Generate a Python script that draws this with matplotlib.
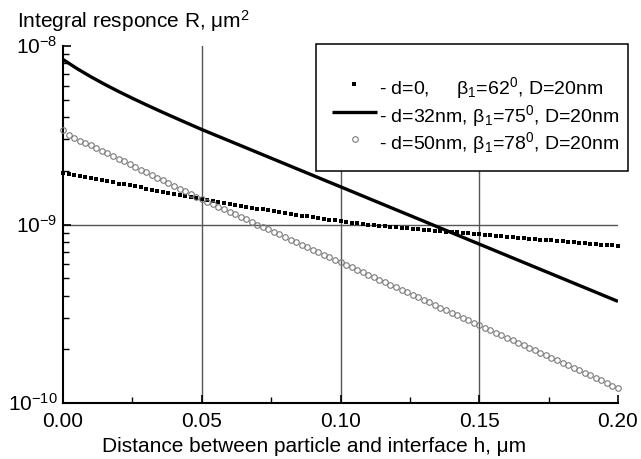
import numpy as np
import matplotlib
matplotlib.use("Agg")
import matplotlib.pyplot as plt
from matplotlib.lines import Line2D
from matplotlib.patches import Rectangle
from matplotlib.ticker import FixedLocator, LogLocator, NullFormatter

plt.rcParams['font.family'] = ['Liberation Sans', 'DejaVu Sans']
plt.rcParams['mathtext.fontset'] = 'custom'
plt.rcParams['mathtext.rm'] = 'Liberation Sans'
plt.rcParams['mathtext.it'] = 'Liberation Sans:italic'
plt.rcParams['mathtext.bf'] = 'Liberation Sans:bold'

# ---------------- data (R in units of 1e-9 um^2) ----------------
h_fine = np.linspace(0.0, 0.20, 101)     # sampling of the marker series
h_solid = np.linspace(0.0, 0.20, 41)     # sampling of the solid curve

R_d0 = [1.931, 1.907, 1.883, 1.859, 1.835,
        1.811, 1.788, 1.765, 1.743, 1.720,
        1.697, 1.676, 1.655, 1.633, 1.612,
        1.591, 1.570, 1.549, 1.529, 1.508,
        1.487, 1.468, 1.449, 1.431, 1.412,
        1.393, 1.376, 1.358, 1.341, 1.323,
        1.306, 1.290, 1.275, 1.259, 1.244,
        1.228, 1.214, 1.201, 1.187, 1.174,
        1.160, 1.147, 1.135, 1.122, 1.110,
        1.097, 1.086, 1.075, 1.064, 1.053,
        1.042, 1.034, 1.025, 1.017, 1.008,
        1.000, 0.993, 0.986, 0.980, 0.973,
        0.966, 0.960, 0.954, 0.947, 0.941,
        0.935, 0.930, 0.924, 0.919, 0.913,
        0.908, 0.903, 0.898, 0.892, 0.887,
        0.882, 0.877, 0.871, 0.866, 0.860,
        0.855, 0.850, 0.845, 0.839, 0.834,
        0.829, 0.824, 0.819, 0.815, 0.810,
        0.805, 0.800, 0.796, 0.791, 0.787,
        0.782, 0.777, 0.772, 0.768, 0.763,
        0.758]

R_d32 = [8.403, 7.480, 6.730, 6.102, 5.564, 5.097, 4.684, 4.315, 3.984, 3.683,
         3.406, 3.163, 2.938, 2.729, 2.534, 2.354, 2.186, 2.030, 1.886, 1.751,
         1.627, 1.511, 1.403, 1.303, 1.210, 1.124, 1.044, 0.9694, 0.9004, 0.8362,
         0.7766, 0.7213, 0.6699, 0.6222, 0.5779, 0.5367, 0.4985, 0.4629, 0.4300,
         0.3993, 0.3709]

R_d50 = [3.398, 3.172, 3.052, 2.955, 2.865,
         2.782, 2.687, 2.594, 2.505, 2.419,
         2.337, 2.257, 2.179, 2.105, 2.032,
         1.963, 1.895, 1.830, 1.767, 1.706,
         1.647, 1.591, 1.536, 1.484, 1.433,
         1.384, 1.339, 1.296, 1.255, 1.214,
         1.175, 1.138, 1.102, 1.067, 1.033,
         1.000, 0.968, 0.938, 0.908, 0.879,
         0.851, 0.824, 0.798, 0.772, 0.748,
         0.724, 0.701, 0.679, 0.657, 0.636,
         0.616, 0.596, 0.577, 0.558, 0.540,
         0.523, 0.506, 0.490, 0.474, 0.459,
         0.444, 0.430, 0.416, 0.403, 0.390,
         0.378, 0.366, 0.354, 0.342, 0.331,
         0.3205, 0.3102, 0.3002, 0.2905, 0.2812,
         0.2721, 0.2635, 0.2551, 0.2470, 0.2392,
         0.2316, 0.2243, 0.2171, 0.2103, 0.2036,
         0.1971, 0.1909, 0.1848, 0.1790, 0.1733,
         0.1677, 0.1624, 0.1572, 0.1522, 0.1474,
         0.1427, 0.1381, 0.1337, 0.1295, 0.1253,
         0.1213]

UNIT = 1e-9

x_ticks = [0.00, 0.05, 0.10, 0.15, 0.20]
x_ticklabels = ["0.00", "0.05", "0.10", "0.15", "0.20"]
x_minor = [0.025, 0.075, 0.125, 0.175]
y_ticks = [1e-10, 1e-9, 1e-8]
y_ticklabels = [r"$10^{-10}$", r"$10^{-9}$", r"$10^{-8}$"]
v_grid = [0.05, 0.10, 0.15]
h_grid = [1e-9]

labels = [r"- d=0,     β$_1$=62$^0$, D=20nm",
          r"- d=32nm, β$_1$=75$^0$, D=20nm",
          r"- d=50nm, β$_1$=78$^0$, D=20nm"]

# ---------------- figure ----------------
W, H = 641, 460
fig = plt.figure(figsize=(W / 100, H / 100), dpi=100)
fx = lambda px: px / W
fy = lambda py: 1 - py / H

ax = fig.add_axes([fx(63), fy(404), fx(618) - fx(63), fy(47) - fy(404)])
ax.set_yscale('log')
ax.set_xlim(0, 0.20)
ax.set_ylim(1e-10, 1e-8)

for xv in v_grid:
    ax.axvline(xv, color='#555555', lw=1.0, zorder=1)
for yv in h_grid:
    ax.axhline(yv, color='#555555', lw=1.0, zorder=1)

ax.plot(h_fine, np.array(R_d0) * UNIT, linestyle='none', marker='s', ms=2.4,
        color='black', mew=0, zorder=3, clip_on=False)
ax.plot(h_solid, np.array(R_d32) * UNIT, color='black', lw=2.4, zorder=4,
        solid_capstyle='butt', solid_joinstyle='round')
ax.plot(h_fine, np.array(R_d50) * UNIT, linestyle='none', marker='o', ms=4.0,
        mfc='none', mec='#7a7a7a', mew=0.8, zorder=3, clip_on=False)

for s in ['top', 'right']:
    ax.spines[s].set_visible(False)
for s in ['left', 'bottom']:
    ax.spines[s].set_linewidth(1.5)

ax.xaxis.set_major_locator(FixedLocator(x_ticks))
ax.set_xticklabels(x_ticklabels)
ax.xaxis.set_minor_locator(FixedLocator(x_minor))
ax.yaxis.set_major_locator(FixedLocator(y_ticks))
ax.set_yticklabels(y_ticklabels)
ax.yaxis.set_minor_locator(LogLocator(base=10, subs=np.arange(2, 10)))
ax.yaxis.set_minor_formatter(NullFormatter())

ax.tick_params(which='major', direction='in', length=6, width=1.2,
               labelsize=15, colors='black')
ax.tick_params(which='minor', direction='in', length=4, width=1.0)
ax.tick_params(axis='x', which='major', pad=5.5)
ax.tick_params(axis='y', which='major', pad=4)
for t in ax.get_yticklabels():
    t.set_verticalalignment('center')

# axis titles
fig.text(fx(17), fy(28), r"Integral responce R, μm$^2$", fontsize=15, va='baseline')
fig.text(fx(102), fy(452), r"Distance between particle and interface h, μm",
         fontsize=15, va='baseline', ha='left')

# legend (manual)
fig.add_artist(Rectangle((fx(316), fy(172)), fx(628) - fx(316), fy(45) - fy(172),
                         transform=fig.transFigure, facecolor='white',
                         edgecolor='black', lw=1.1, zorder=10))
rows = [85, 113, 140]
fig.add_artist(Line2D([fx(354)], [fy(rows[0])], marker='s', ms=2.4, mew=0,
                      color='black', linestyle='none',
                      transform=fig.transFigure, zorder=11))
fig.add_artist(Line2D([fx(332), fx(377)], [fy(rows[1])] * 2, lw=2.4,
                      color='black', transform=fig.transFigure, zorder=11,
                      solid_capstyle='butt'))
fig.add_artist(Line2D([fx(355)], [fy(rows[2])], marker='o', ms=4.0,
                      mfc='none', mec='#7a7a7a', mew=0.8, linestyle='none',
                      transform=fig.transFigure, zorder=11))
for r, lab in zip(rows, labels):
    fig.text(fx(379), fy(r), lab, fontsize=14, va='center_baseline',
             ha='left', zorder=12)

fig.savefig("out.png", dpi=100, facecolor='white')
